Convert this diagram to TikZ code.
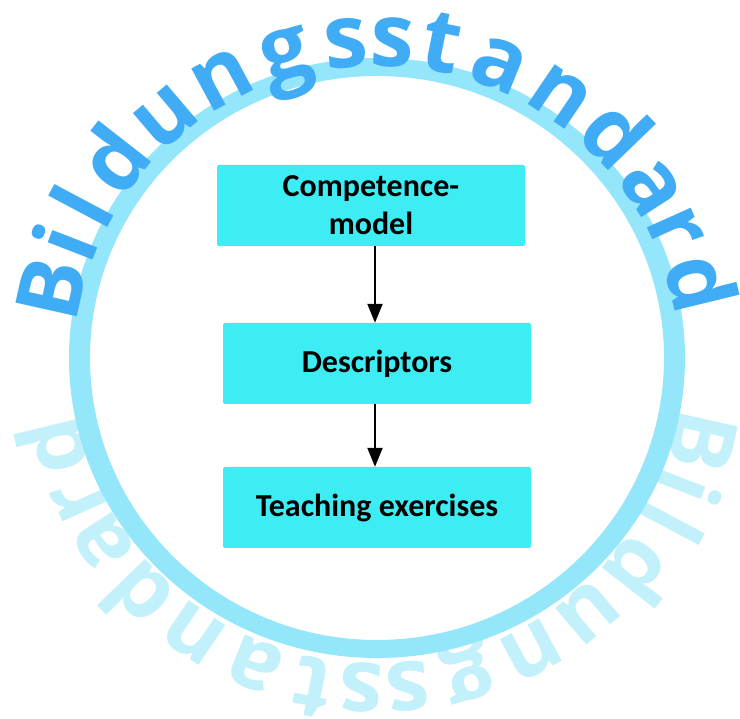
\documentclass[tikz,border=0pt]{standalone}
\usepackage{fontspec}
\setmainfont{Carlito}
\newfontfamily\arcfont{Open Sans}
\usetikzlibrary{arrows.meta}
\definecolor{ringblue}{RGB}{148,230,250}
\definecolor{wordblue}{RGB}{64,172,245}
\definecolor{fadecyan}{RGB}{194,240,251}
\definecolor{boxcyan}{RGB}{62,237,243}
\begin{document}
\begin{tikzpicture}[x=1pt,y=1pt,
  box/.style={fill=boxcyan, minimum width=308pt, minimum height=81pt, inner sep=0pt,
    rounded corners=2pt, align=center, text=black,
    font=\bfseries\fontsize{32}{38}\selectfont},
  link/.style={draw=black, line width=2.2pt, -{Triangle[length=19pt,width=15pt]}},
  arcletter/.style={anchor=base, inner sep=0pt,
    font=\arcfont\bfseries\fontsize{88}{88}\selectfont}]
\useasboundingbox (0,0) rectangle (740,719);
\fill[white] (0,0) rectangle (740,719);
% faded reflection of the word (rotated half-turn)
\begin{scope}[rotate around={180:(377,354)}, transform shape]
  \foreach \ch/\ang [count=\k] in {B/167.4,i/158.8,l/152.0,d/142.0,u/130.4,n/118.3,g/106.2,s/95.4,s/87.3,t/78.7,a/67.9,n/55.8,d/44.0,a/32.7,r/24.1,d/13.7}
    \node[arcletter, text=fadecyan, rotate=\ang-90] (r\k) at ({377+302*cos(\ang)},{359+294*sin(\ang)}) {\ch};
\end{scope}
% ring
\fill[ringblue, even odd rule] (377,361) ellipse [x radius=308pt, y radius=300pt]
  (377,361) ellipse [x radius=287pt, y radius=282pt];
% word along the top
\foreach \ch/\ang [count=\k] in {B/167.4,i/158.8,l/152.0,d/142.0,u/130.4,n/118.3,g/106.2,s/95.4,s/87.3,t/78.7,a/67.9,n/55.8,d/44.0,a/32.7,r/24.1,d/13.7}
  \node[arcletter, text=wordblue, rotate=\ang-90] (t\k) at ({377+302*cos(\ang)},{359+294*sin(\ang)}) {\ch};
% boxes
\node[box] (b1) at (371,513.5) {Competence-\\model};
\node[box] (b2) at (377,355.5) {Descriptors};
\node[box] (b3) at (377,211.5) {Teaching exercises};
\coordinate (axis) at (375,0);
\draw[link] (b1.south -| axis) -- (b2.north -| axis);
\draw[link] (b2.south -| axis) -- (b3.north -| axis);
\end{tikzpicture}
\end{document}
